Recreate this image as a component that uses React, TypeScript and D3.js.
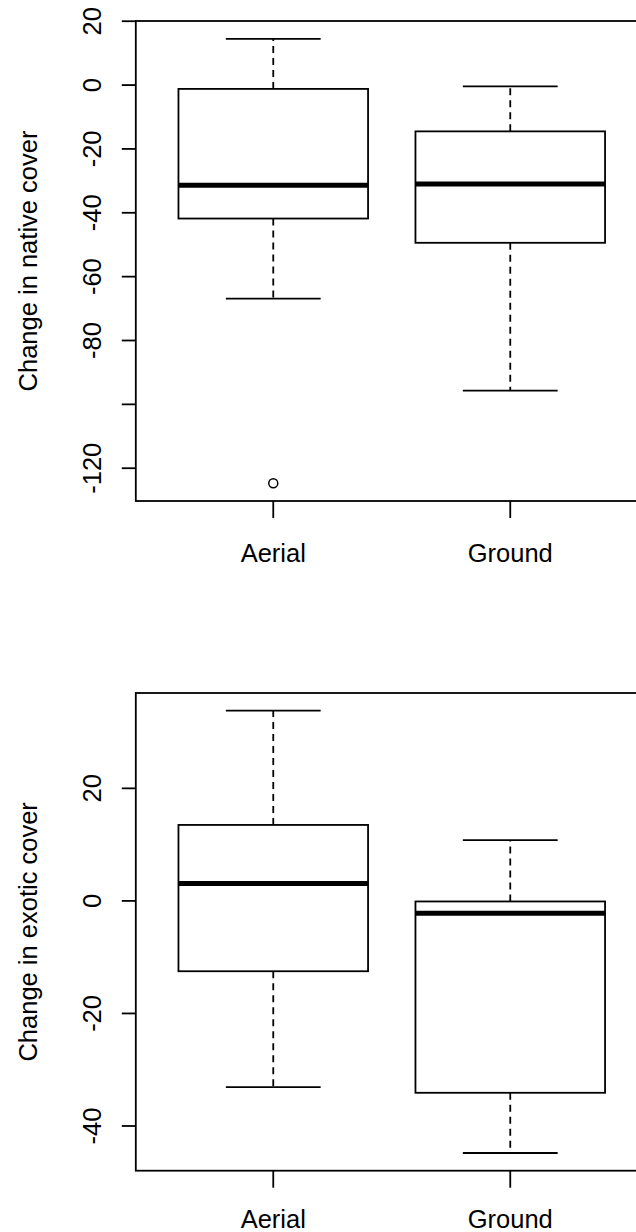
import React from 'react';
import * as d3 from 'd3';

// categories
const groups = ['Aerial', 'Ground'];

// [lower whisker, Q1, median, Q3, upper whisker]
const nativeAerial = [-66.9, -41.8, -31.4, -1.2, 14.5];
const nativeGround = [-95.7, -49.4, -31.0, -14.5, -0.4];
const nativeOutliers = [{ group: 'Aerial', value: -124.7 }];
const nativeTicks = [20, 0, -20, -40, -60, -80, -100, -120];
const nativeTickLabels = ['20', '0', '-20', '-40', '-60', '-80', '', '-120'];

const exoticAerial = [-33.1, -12.5, 3.1, 13.5, 33.8];
const exoticGround = [-44.8, -34.1, -2.2, -0.1, 10.8];
const exoticOutliers: { group: string; value: number }[] = [];
const exoticTicks = [20, 0, -20, -40];
const exoticTickLabels = ['20', '0', '-20', '-40'];

const FONT = '"Liberation Sans", Arial, Helvetica, sans-serif';
const FS = 25.5;

type Outlier = { group: string; value: number };

function BoxPanel({ stats, outliers, ticks, tickLabels, yLabel, top, bottom, labelGap }: {
    stats: number[][];
    outliers: Outlier[];
    ticks: number[];
    tickLabels: string[];
    yLabel: string;
    top: number;
    bottom: number;
    labelGap: number;
}) {
    const left = 135.8;
    const unit = 237;
    // R style: xlim 0.5..n+0.5, extended 4%
    const x = d3.scaleLinear().domain([0.42, 2.58]).range([left, left + 2.16 * unit]);

    const all = stats.flat().concat(outliers.map((o) => o.value));
    const [lo, hi] = d3.extent(all) as [number, number];
    const pad = (hi - lo) * 0.04;
    const y = d3.scaleLinear().domain([lo - pad, hi + pad]).range([bottom, top]);

    const boxW = 0.8 * unit;
    const capW = 0.4 * unit;
    const x0 = x(0.42);
    const x1 = x(2.58);

    return (
        <g>
            {stats.map((s, i) => {
                const cx = x(i + 1);
                const [wl, q1, med, q3, wh] = s;
                return (
                    <g key={groups[i]} stroke="#000" fill="none">
                        <line x1={cx} x2={cx} y1={y(q3)} y2={y(wh)} strokeWidth={1.8} strokeDasharray="7,5" />
                        <line x1={cx} x2={cx} y1={y(q1)} y2={y(wl)} strokeWidth={1.8} strokeDasharray="7,5" />
                        <line x1={cx - capW / 2} x2={cx + capW / 2} y1={y(wh)} y2={y(wh)} strokeWidth={1.8} />
                        <line x1={cx - capW / 2} x2={cx + capW / 2} y1={y(wl)} y2={y(wl)} strokeWidth={1.8} />
                        <rect x={cx - boxW / 2} y={y(q3)} width={boxW} height={y(q1) - y(q3)} fill="#fff" strokeWidth={1.8} />
                        <line x1={cx - boxW / 2} x2={cx + boxW / 2} y1={y(med)} y2={y(med)} strokeWidth={5} />
                    </g>
                );
            })}
            {outliers.map((o, i) => (
                <circle key={i} cx={x(groups.indexOf(o.group) + 1)} cy={y(o.value)} r={4.5}
                    fill="none" stroke="#000" strokeWidth={1.5} />
            ))}

            {/* frame */}
            <rect x={x0} y={top} width={x1 - x0} height={bottom - top} fill="none" stroke="#000" strokeWidth={1.8} />

            {/* y axis */}
            {ticks.map((t, i) => (
                <g key={t}>
                    <line x1={x0 - 14} x2={x0} y1={y(t)} y2={y(t)} stroke="#000" strokeWidth={1.8} />
                    {tickLabels[i] && (
                        <text transform={`translate(101, ${y(t)}) rotate(-90)`} textAnchor="middle"
                            fontFamily={FONT} fontSize={FS} fill="#000">{tickLabels[i]}</text>
                    )}
                </g>
            ))}

            {/* x axis */}
            {groups.map((g, i) => (
                <g key={g}>
                    <line x1={x(i + 1)} x2={x(i + 1)} y1={bottom} y2={bottom + 17} stroke="#000" strokeWidth={1.8} />
                    <text x={x(i + 1)} y={bottom + labelGap} textAnchor="middle" fontFamily={FONT} fontSize={FS} fill="#000">{g}</text>
                </g>
            ))}

            <text transform={`translate(37, ${(top + bottom) / 2}) rotate(-90)`} textAnchor="middle"
                fontFamily={FONT} fontSize={FS} fill="#000">{yLabel}</text>
        </g>
    );
}

export default function App() {
    return (
        <svg width={636} height={1232} style={{ position: 'absolute', left: 0, top: 0, background: '#fff' }}>
            <rect width={636} height={1232} fill="#fff" />
            <BoxPanel stats={[nativeAerial, nativeGround]} outliers={nativeOutliers}
                ticks={nativeTicks} tickLabels={nativeTickLabels}
                yLabel="Change in native cover" top={21} bottom={501} labelGap={60.5} />
            <BoxPanel stats={[exoticAerial, exoticGround]} outliers={exoticOutliers}
                ticks={exoticTicks} tickLabels={exoticTickLabels}
                yLabel="Change in exotic cover" top={693} bottom={1170.7} labelGap={57} />
        </svg>
    );
}
